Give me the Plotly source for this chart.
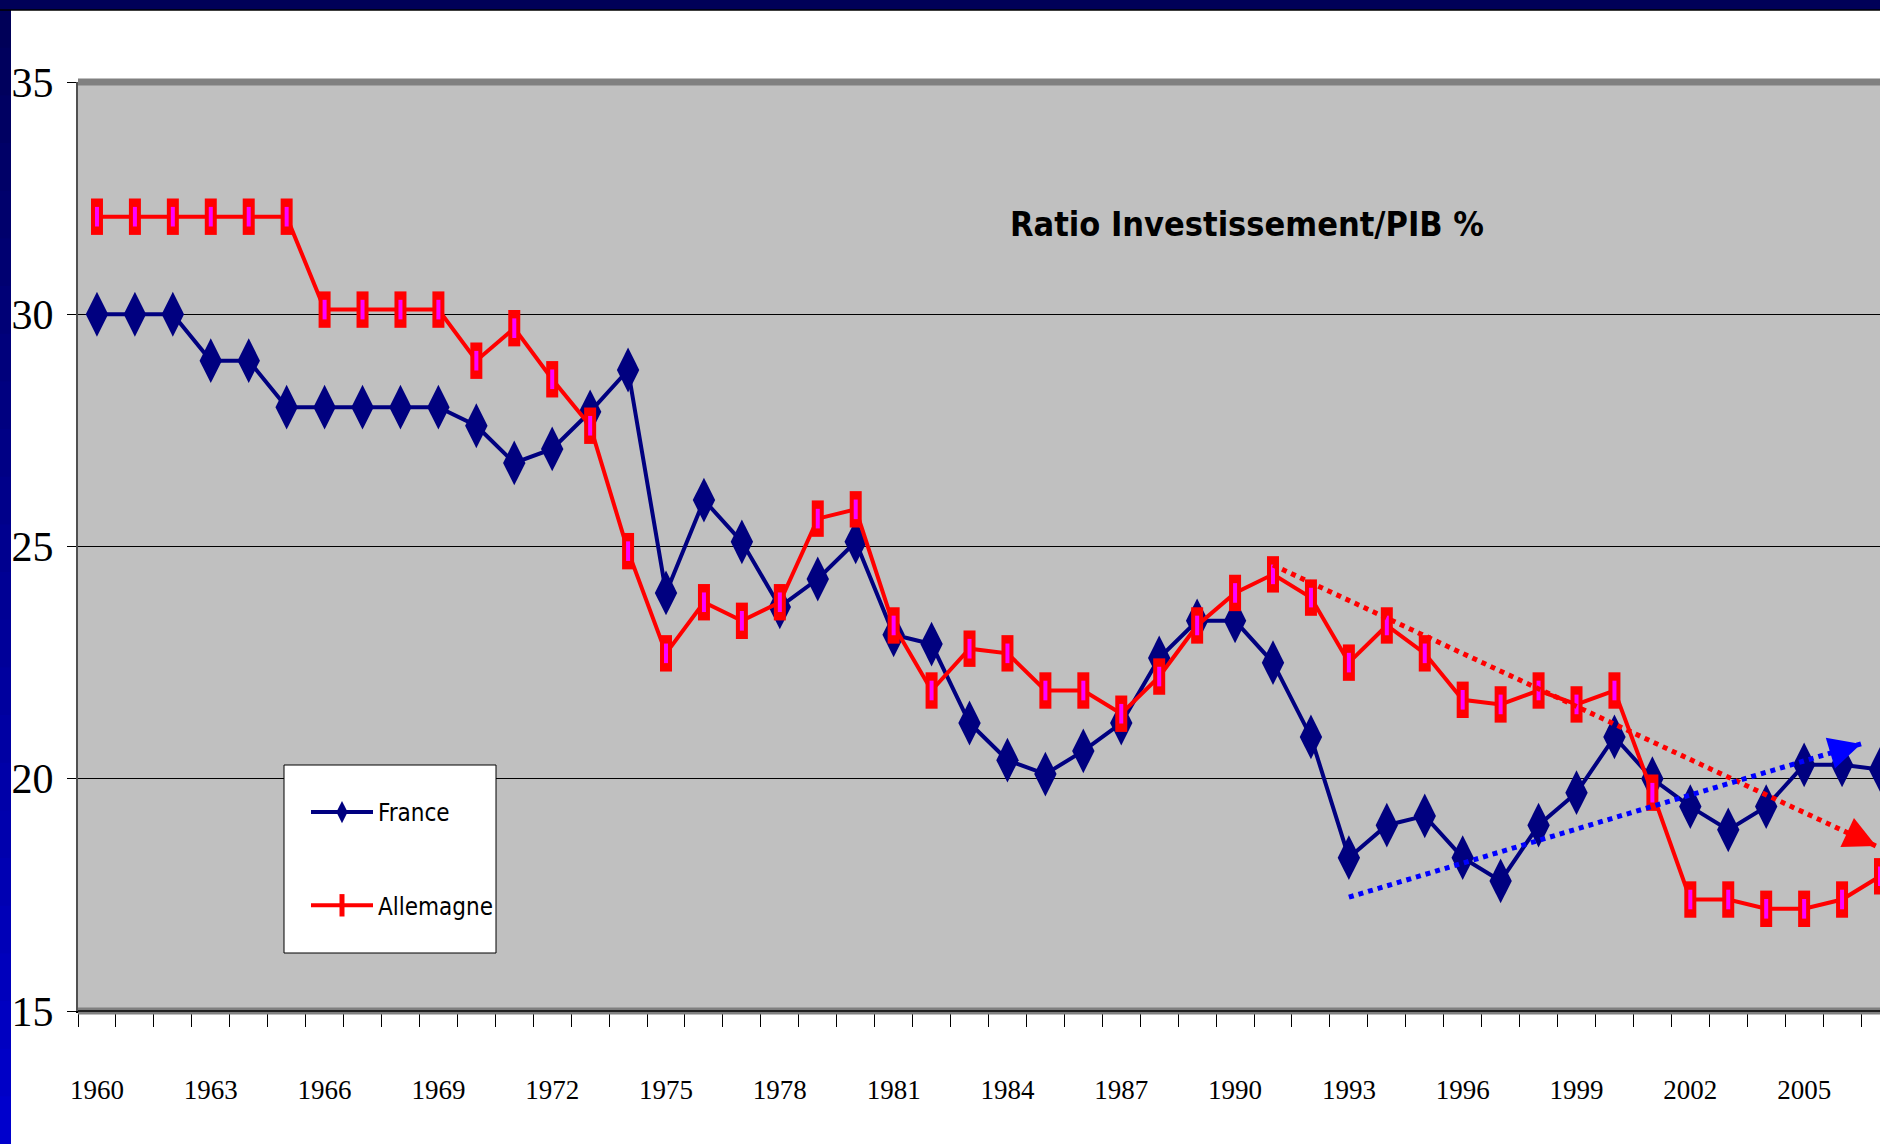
import plotly.graph_objects as go

# ---------------- data ----------------
years = list(range(1960, 2008))
france = [30.0, 30.0, 30.0, 29.0, 29.0, 28.0, 28.0, 28.0, 28.0, 28.0,
          27.6, 26.8, 27.1, 27.9, 28.8, 24.0, 26.0, 25.1, 23.7, 24.3,
          25.1, 23.1, 22.9, 21.2, 20.4, 20.1, 20.6, 21.2, 22.6, 23.4,
          23.4, 22.5, 20.9, 18.3, 19.0, 19.2, 18.3, 17.8, 19.0, 19.7,
          20.9, 20.0, 19.4, 18.9, 19.4, 20.3, 20.3, 20.2]
allemagne = [32.1, 32.1, 32.1, 32.1, 32.1, 32.1, 30.1, 30.1, 30.1, 30.1,
             29.0, 29.7, 28.6, 27.6, 24.9, 22.7, 23.8, 23.4, 23.8, 25.6,
             25.8, 23.3, 21.9, 22.8, 22.7, 21.9, 21.9, 21.4, 22.2, 23.3,
             24.0, 24.4, 23.9, 22.5, 23.3, 22.7, 21.7, 21.6, 21.9, 21.6,
             21.9, 19.7, 17.4, 17.4, 17.2, 17.2, 17.4, 17.9]

# hand-drawn trend arrows
trend_de_x = [1991.0, 2006.9]
trend_de_y = [24.6, 18.55]
trend_fr_x = [1993.0, 2006.5]
trend_fr_y = [17.45, 20.75]

x_tick_years = list(range(1960, 2008, 3))
x_tick_labels = [str(y) for y in x_tick_years]
y_ticks = [15, 20, 25, 30, 35]
y_tick_labels = ["15", "20", "25", "30", "35"]

title_text = "Ratio Investissement/PIB %"

# ---------------- geometry ----------------
FIG_W, FIG_H = 1880, 1144
ML, MR, MT, MB = 78, 0, 82, 133
PW = FIG_W - ML - MR
PH = FIG_H - MT - MB


def px_x(px):
    return (px - ML) / PW


def px_y(py):
    return (FIG_H - MB - py) / PH


NAVY = "#000080"
RED = "#FF0000"
MAGENTA = "#FF00FF"
BLUE = "#0000FF"
SERIF = "Liberation Serif, Times New Roman, serif"
NARROW = "Liberation Sans Narrow, DejaVu Sans Condensed, Arial Narrow, sans-serif"

fig = go.Figure()

fig.add_trace(go.Scatter(
    x=years, y=france, name="France", mode="lines+markers",
    legendgroup="fr",
    line=dict(color=NAVY, width=4),
    marker=dict(symbol="diamond-tall", size=32, color=NAVY,
                line=dict(width=0)),
))
fig.add_trace(go.Scatter(
    x=years, y=allemagne, name="Allemagne", mode="lines+markers",
    legendgroup="de",
    line=dict(color=RED, width=4),
    marker=dict(symbol="line-ns", size=26, color=RED,
                line=dict(color=RED, width=12)),
))
fig.add_trace(go.Scatter(
    x=years, y=allemagne, name="Allemagne", mode="markers",
    legendgroup="de", showlegend=False,
    marker=dict(symbol="line-ns", size=14, color=MAGENTA,
                line=dict(color=MAGENTA, width=4)),
))

# trend lines (dotted)
fig.add_trace(go.Scatter(
    x=trend_de_x, y=trend_de_y, mode="lines", showlegend=False,
    line=dict(color=RED, width=5, dash="dot"), cliponaxis=False,
))
fig.add_trace(go.Scatter(
    x=trend_fr_x, y=trend_fr_y, mode="lines", showlegend=False,
    line=dict(color=BLUE, width=5, dash="dot"), cliponaxis=False,
))


def arrow_head(xs, ys, color):
    # short tail so only the arrow head is visible at the end of the dotted line
    tx = xs[-1] - 0.04 * (xs[-1] - xs[0])
    ty = ys[-1] - 0.04 * (ys[-1] - ys[0])
    return dict(x=xs[-1], y=ys[-1], ax=tx, ay=ty, xref="x", yref="y",
                axref="x", ayref="y", text="", showarrow=True,
                arrowhead=2, arrowsize=1.6, arrowwidth=4, arrowcolor=color,
                standoff=0)


shapes = []
# left gradient bar
n_seg = 24
for i in range(n_seg):
    t = i / (n_seg - 1)
    b = int(0x58 + t * (0xCC - 0x58))
    col = "#0000%02X" % b
    shapes.append(dict(type="rect", xref="paper", yref="paper",
                       x0=px_x(0), x1=px_x(11),
                       y0=px_y(FIG_H * (i + 1) / n_seg + 1), y1=px_y(FIG_H * i / n_seg),
                       line=dict(width=0), fillcolor=col, layer="above"))
# top navy bar
shapes.append(dict(type="rect", xref="paper", yref="paper",
                   x0=px_x(0), x1=px_x(FIG_W), y0=px_y(10), y1=px_y(0),
                   line=dict(width=0), fillcolor="#000058", layer="above"))
shapes.append(dict(type="line", xref="paper", yref="paper",
                   x0=px_x(0), x1=px_x(FIG_W), y0=px_y(10), y1=px_y(10),
                   line=dict(color="#000000", width=1.5), layer="above"))
# plot-area frame bands
shapes.append(dict(type="line", xref="paper", yref="paper",
                   x0=0, x1=1, y0=1, y1=1,
                   line=dict(color="#808080", width=7), layer="above"))
shapes.append(dict(type="line", xref="paper", yref="paper",
                   x0=0, x1=1, y0=0, y1=0,
                   line=dict(color="#808080", width=7), layer="above"))
shapes.append(dict(type="line", xref="paper", yref="paper",
                   x0=0, x1=1, y0=0, y1=0,
                   line=dict(color="#000000", width=1.5), layer="above"))
# legend box
shapes.append(dict(type="rect", xref="paper", yref="paper",
                   x0=px_x(284), x1=px_x(496), y0=px_y(953), y1=px_y(765),
                   line=dict(color="#000000", width=1), fillcolor="#FFFFFF",
                   layer="above"))

fig.update_layout(
    width=FIG_W, height=FIG_H,
    margin=dict(l=ML, r=MR, t=MT, b=MB, pad=0),
    paper_bgcolor="#FFFFFF",
    plot_bgcolor="#C0C0C0",
    showlegend=True,
    legend=dict(
        x=px_x(306), y=px_y(790), xanchor="left", yanchor="top",
        bgcolor="rgba(0,0,0,0)", borderwidth=0,
        font=dict(family=NARROW, size=24, color="#000000"),
        traceorder="grouped", tracegroupgap=59, itemwidth=62,
    ),
    shapes=shapes,
    annotations=[
        dict(text=title_text, xref="paper", yref="paper",
             x=px_x(1247), y=px_y(224), xanchor="center", yanchor="middle",
             showarrow=False,
             font=dict(family=NARROW, size=34, color="#000000", weight="bold")),
        arrow_head(trend_de_x, trend_de_y, RED),
        arrow_head(trend_fr_x, trend_fr_y, BLUE),
    ],
)

fig.update_xaxes(
    type="linear", range=[1959.5, 2007.0],
    tickvals=x_tick_years, ticktext=x_tick_labels,
    ticks="", ticklabelstandoff=54,
    tickfont=dict(family=SERIF, size=27, color="#000000"),
    showgrid=False, zeroline=False,
    showline=True, linecolor="#000000", linewidth=2,
    minor=dict(tickvals=[y - 0.5 for y in years] + [years[-1] + 0.5],
               ticks="outside", ticklen=14, tickcolor="#000000",
               tickwidth=1, showgrid=False),
)
fig.update_yaxes(
    range=[15, 35], tickvals=y_ticks, ticktext=y_tick_labels,
    ticks="outside", ticklen=9, tickcolor="#000000", tickwidth=1,
    ticklabelstandoff=5,
    tickfont=dict(family=SERIF, size=42, color="#000000"),
    showgrid=True, gridcolor="#000000", gridwidth=1,
    zeroline=False,
    showline=True, linecolor="#505050", linewidth=2,
)

fig.write_html(
    "out.html",
    config={"displayModeBar": False},
    post_script="document.body.style.margin='0px';document.body.style.overflow='hidden';",
)
